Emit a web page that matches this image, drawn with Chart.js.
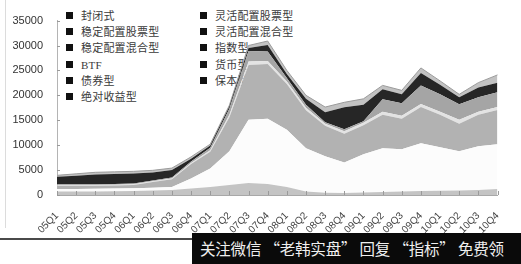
<!DOCTYPE html>
<html>
<head>
<meta charset="utf-8">
<script src="https://cdn.jsdelivr.net/npm/chart.js@4"></script>
<style>
  html, body { margin: 0; padding: 0; background: #fff; }
  #wrap { position: relative; width: 521px; height: 264px; overflow: hidden; background: #fff; }
  #legend { position: absolute; left: 0; top: 0; width: 521px; height: 120px; z-index: 1;
            font-family: "Liberation Serif", "Noto Sans CJK SC", serif; font-size: 11px; color: #3a3a3a; }
  .item { position: absolute; white-space: nowrap; line-height: 12px; letter-spacing: 0.2px; }
  .box { display: inline-block; width: 7px; height: 7px; background: #111; margin-right: 8px; vertical-align: 1px; }
  canvas { position: absolute; left: 0; top: 0; z-index: 2; }
  #frame { position: absolute; left: 5px; top: 0; width: 1px; height: 228px; background: #dcdcdc; z-index: 3; }
  #rule { position: absolute; left: 0; top: 238px; width: 200px; height: 2px; background: #4a4a4a; z-index: 3; }
  #banner { position: absolute; left: 192px; top: 233px; width: 329px; height: 31px; background: #0a0a0a; z-index: 4;
            color: #efefef; font-family: "Noto Sans CJK SC", sans-serif; font-size: 15.5px; line-height: 31px;
            padding-left: 8px; box-sizing: border-box; white-space: nowrap; letter-spacing: -0.2px; }
</style>
</head>
<body>
<div id="wrap">
  <div id="legend"></div>
  <canvas id="c" width="521" height="264"></canvas>
  <div id="frame"></div>
  <div id="rule"></div>
  <div id="banner">关注微信 “老韩实盘” 回复 “指标” 免费领</div>
</div>
<script>
// ---- data (values in the chart's units) ----
const categories = ['05Q1','05Q2','05Q3','05Q4','06Q1','06Q2','06Q3','06Q4','07Q1','07Q2','07Q3','07Q4',
                    '08Q1','08Q2','08Q3','08Q4','09Q1','09Q2','09Q3','09Q4','10Q1','10Q2','10Q3','10Q4'];

const legendNames = ['封闭式','稳定配置股票型','稳定配置混合型','BTF','债券型','绝对收益型',
                     '灵活配置股票型','灵活配置混合型','指数型','货币型','保本型'];

const closedEnd   = [700,700,700,750,800,900,1000,1300,1600,2000,2400,2200,1600,700,450,400,500,600,700,800,850,900,1000,1200];
const stableStock = [500,500,550,550,550,550,600,2000,3700,6800,12700,13100,11500,8700,7350,6100,7700,8800,8500,9600,8750,7900,8800,9000];
const stableMixed = [650,650,600,600,650,1150,1550,2900,3400,6800,11000,11000,9200,7600,6100,5800,5800,6700,6100,7250,6500,5500,6300,6860];
const indexFund   = [150,150,150,150,150,150,150,200,300,500,700,600,500,500,400,500,500,600,600,590,600,800,600,590];
const bondFund    = [150,150,150,150,150,150,200,300,500,1200,2100,1900,700,600,300,400,300,2500,2500,3720,3500,3100,2900,2950];
const moneyFund   = [1500,1700,1950,2000,2000,1600,1500,600,450,450,600,1300,800,1200,2000,4400,3300,2000,1800,2540,1950,1400,1970,1950];
const guaranteed  = [300,400,450,450,450,450,400,350,250,250,500,800,700,700,1050,1000,1200,800,800,1000,750,600,980,1550];

const yTicks = [0,5000,10000,15000,20000,25000,30000,35000];

// ---- legend (real text, drawn behind the chart as in the reference) ----
const legendEl = document.getElementById('legend');
const col1 = legendNames.slice(0, 6), col2 = legendNames.slice(6);
function addItem(name, left, top) {
  const d = document.createElement('div');
  d.className = 'item';
  d.style.left = left + 'px';
  d.style.top = top + 'px';
  d.innerHTML = '<span class="box"></span>' + name;
  legendEl.appendChild(d);
}
col1.forEach((n, i) => addItem(n, 66, 10 + i * 16.2));
col2.forEach((n, i) => addItem(n, 200, 10 + i * 16.2));

// ---- chart ----
const layers = [
  { label: '封闭式',         data: closedEnd,   color: '#c4c4c4' },
  { label: '稳定配置股票型', data: stableStock, color: '#fcfcfc' },
  { label: '稳定配置混合型', data: stableMixed, color: '#b2b2b2' },
  { label: '指数型',         data: indexFund,   color: '#e3e3e3' },
  { label: '债券型',         data: bondFund,    color: '#a5a5a5' },
  { label: '货币型',         data: moneyFund,   color: '#262626' },
  { label: '保本型',         data: guaranteed,  color: '#c2c2c2' }
];

const innerTicks = {
  id: 'innerTicks',
  afterDatasetsDraw(chart) {
    const { ctx, chartArea, scales: { x, y } } = chart;
    ctx.save();
    ctx.strokeStyle = '#9a9a9a';
    ctx.lineWidth = 1;
    ctx.beginPath();
    x.ticks.forEach((t, i) => {
      const px = Math.round(x.getPixelForTick(i)) + 0.5;
      ctx.moveTo(px, chartArea.bottom);
      ctx.lineTo(px, chartArea.bottom - 4);
    });
    y.ticks.forEach((t, i) => {
      const py = Math.round(y.getPixelForTick(i)) + 0.5;
      ctx.moveTo(chartArea.left, py);
      ctx.lineTo(chartArea.left + 3, py);
    });
    ctx.stroke();
    ctx.restore();
  }
};

new Chart(document.getElementById('c'), {
  type: 'line',
  data: {
    labels: categories,
    datasets: layers.map((l, i) => ({
      label: l.label,
      data: l.data,
      backgroundColor: l.color,
      borderColor: i === layers.length - 1 ? '#9c9c9c' : l.color,
      borderWidth: i === layers.length - 1 ? 1 : 0,
      pointRadius: 0,
      tension: 0,
      fill: i === 0 ? 'origin' : '-1'
    }))
  },
  options: {
    responsive: false,
    animation: false,
    layout: { padding: { top: 16, right: 7, left: 0, bottom: 0 } },
    plugins: { legend: { display: false }, tooltip: { enabled: false } },
    scales: {
      x: {
        offset: false,
        grid: { display: true, drawOnChartArea: false, drawTicks: false },
        border: { display: true, color: '#a8a8a8' },
        ticks: { autoSkip: false, maxRotation: 45, minRotation: 45, padding: 15,
                 color: '#444', font: { family: 'Liberation Sans', size: 10 } },
        afterFit: s => { s.height = 69; }
      },
      y: {
        stacked: true,
        min: 0, max: 35000,
        afterBuildTicks: s => { s.ticks = yTicks.map(v => ({ value: v })); },
        grid: { display: true, drawOnChartArea: false, drawTicks: false },
        border: { display: true, color: '#b4b4b4' },
        ticks: { padding: 14, color: '#333', font: { family: 'Liberation Sans', size: 11 },
                 callback: v => String(v) },
        afterFit: s => { s.width = 57; }
      }
    }
  },
  plugins: [innerTicks]
});
</script>
</body>
</html>
